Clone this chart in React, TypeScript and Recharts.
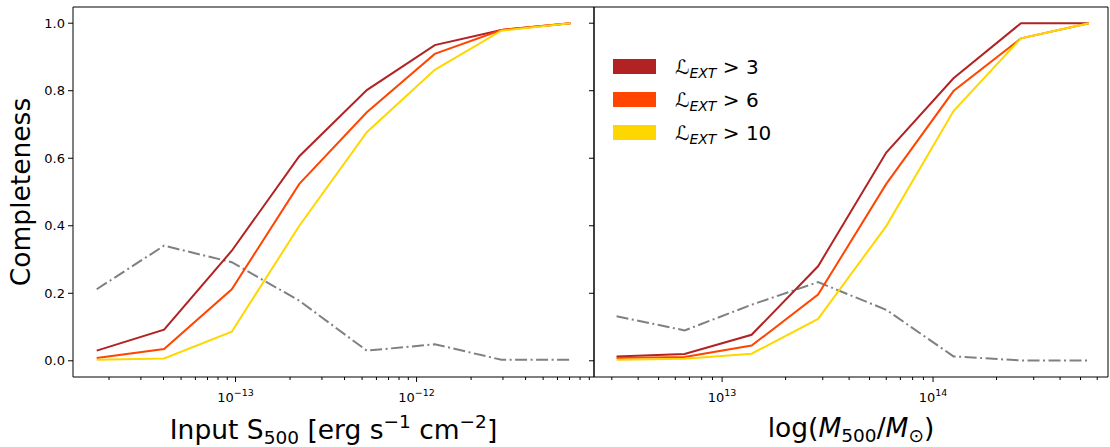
import React from 'react';
import { LineChart, Line, XAxis, YAxis, ReferenceArea, Legend } from 'recharts';

// ---------- data ----------
const fluxBins = [1.71e-14, 4.03e-14, 9.53e-14, 2.25e-13, 5.31e-13, 1.26e-12, 2.94e-12, 7.08e-12];
const fluxL3 = [0.03, 0.092, 0.326, 0.606, 0.802, 0.935, 0.98, 1.0];
const fluxL6 = [0.008, 0.035, 0.212, 0.524, 0.736, 0.909, 0.98, 1.0];
const fluxL10 = [0.003, 0.007, 0.086, 0.4, 0.677, 0.862, 0.978, 1.0];
const fluxContam = [0.212, 0.341, 0.292, 0.178, 0.03, 0.049, 0.003, 0.003];

const massBins = [3.16e12, 6.64e12, 1.38e13, 2.85e13, 6.0e13, 1.25e14, 2.61e14, 5.48e14];
const massL3 = [0.013, 0.02, 0.077, 0.28, 0.617, 0.837, 1.0, 1.0];
const massL6 = [0.008, 0.011, 0.045, 0.196, 0.524, 0.799, 0.955, 1.0];
const massL10 = [0.003, 0.006, 0.021, 0.124, 0.399, 0.74, 0.955, 1.0];
const massContam = [0.132, 0.09, 0.166, 0.233, 0.151, 0.013, 0.001, 0.001];

const yTicks = [0, 0.2, 0.4, 0.6, 0.8, 1.0];
const yDomain: [number, number] = [-0.048, 1.048];

const fluxDomain: [number, number] = [1.265e-14, 9.55e-12];
const fluxMajorTicks = [1e-13, 1e-12];
const fluxMajorExp = ['\u221213', '\u221212'];
const fluxMinorTicks = [
  2e-14, 3e-14, 4e-14, 5e-14, 6e-14, 7e-14, 8e-14, 9e-14,
  2e-13, 3e-13, 4e-13, 5e-13, 6e-13, 7e-13, 8e-13, 9e-13,
  2e-12, 3e-12, 4e-12, 5e-12, 6e-12, 7e-12, 8e-12, 9e-12,
];

const massDomain: [number, number] = [2.47e12, 6.75e14];
const massMajorTicks = [1e13, 1e14];
const massMajorExp = ['13', '14'];
const massMinorTicks = [
  3e12, 4e12, 5e12, 6e12, 7e12, 8e12, 9e12,
  2e13, 3e13, 4e13, 5e13, 6e13, 7e13, 8e13, 9e13,
  2e14, 3e14, 4e14, 5e14, 6e14,
];

const legendThresholds = ['3', '6', '10'];
const seriesColors = ['#b22222', '#ff4500', '#ffd700'];
const contamColor = '#808080';

const FONT = '"DejaVu Sans", Verdana, sans-serif';

const leftData = fluxBins.map((x, i) => ({
  x,
  l3: fluxL3[i],
  l6: fluxL6[i],
  l10: fluxL10[i],
  contam: fluxContam[i],
}));
const rightData = massBins.map((x, i) => ({
  x,
  l3: massL3[i],
  l6: massL6[i],
  l10: massL10[i],
  contam: massContam[i],
}));

// ---------- custom pieces ----------
const makeXTick = (majors: number[], exps: string[]) => (props: any) => {
  const { x, y, payload } = props;
  const idx = majors.findIndex((m) => Math.abs(m - payload.value) / m < 1e-6);
  const isMajor = idx >= 0;
  return (
    <g>
      <line x1={x} x2={x} y1={y} y2={y + (isMajor ? 5 : 3)} stroke="#000" strokeWidth={1} />
      {isMajor && (
        <text x={x} y={y + 24.5} textAnchor="middle" fontSize={13} fontFamily={FONT} fill="#000">
          10
          <tspan fontSize={9.5} dy={-6}>
            {exps[idx]}
          </tspan>
        </text>
      )}
    </g>
  );
};

const FluxTick = makeXTick(fluxMajorTicks, fluxMajorExp);
const MassTick = makeXTick(massMajorTicks, massMajorExp);

const EmptyTick = () => <g />;

const SUB = 18.5;

const fluxXLabel = (props: any) => {
  const vb = props.viewBox;
  const cx = vb.x + vb.width / 2;
  const by = vb.y + 62;
  return (
    <text x={cx} y={by} textAnchor="middle" fontSize={26.5} fontFamily={FONT} fill="#000">
      Input S
      <tspan fontSize={SUB} dy={5}>500</tspan>
      <tspan dy={-5}> [erg s</tspan>
      <tspan fontSize={SUB} dy={-11}>{'\u22121'}</tspan>
      <tspan dy={11}> cm</tspan>
      <tspan fontSize={SUB} dy={-11}>{'\u22122'}</tspan>
      <tspan dy={11}>]</tspan>
    </text>
  );
};

const massXLabel = (props: any) => {
  const vb = props.viewBox;
  const cx = vb.x + vb.width / 2;
  const by = vb.y + 60;
  return (
    <text x={cx} y={by} textAnchor="middle" fontSize={26.5} fontFamily={FONT} fill="#000">
      log(
      <tspan fontStyle="italic">M</tspan>
      <tspan fontSize={SUB} dy={5}>500</tspan>
      <tspan dy={-5}>/</tspan>
      <tspan fontStyle="italic">M</tspan>
      <tspan fontSize={SUB} dy={5}>{'\u2299'}</tspan>
      <tspan dy={-5}>)</tspan>
    </text>
  );
};

const yLabel = (props: any) => {
  const vb = props.viewBox;
  const cx = 30;
  const cy = vb.y + vb.height / 2;
  return (
    <text
      x={cx}
      y={cy}
      transform={`rotate(-90, ${cx}, ${cy})`}
      textAnchor="middle"
      fontSize={26.5}
      fontFamily={FONT}
      fill="#000"
    >
      Completeness
    </text>
  );
};

const renderLegend = () => (
  <div style={{ fontFamily: FONT }}>
    {legendThresholds.map((lab, i) => (
      <div key={lab} style={{ display: 'flex', alignItems: 'center', height: 33 }}>
        <div style={{ width: 43, height: 15, background: seriesColors[i] }} />
        <span
          style={{
            marginLeft: 19,
            fontSize: 20,
            lineHeight: '20px',
            color: '#000',
            whiteSpace: 'nowrap',
          }}
        >
          {'\u2112'}
          <span
            style={{
              fontSize: 14,
              fontStyle: 'italic',
              position: 'relative',
              top: 4,
              lineHeight: 0,
            }}
          >
            EXT
          </span>
          {' > '}
          {lab}
        </span>
      </div>
    ))}
  </div>
);

const seriesLines = () => [
  <Line
    key="contam"
    dataKey="contam"
    type="linear"
    stroke={contamColor}
    strokeWidth={2}
    strokeDasharray="12 3.5 2 3.5"
    dot={false}
    activeDot={false}
    isAnimationActive={false}
  />,
  <Line
    key="l3"
    dataKey="l3"
    type="linear"
    stroke={seriesColors[0]}
    strokeWidth={2}
    dot={false}
    activeDot={false}
    isAnimationActive={false}
  />,
  <Line
    key="l6"
    dataKey="l6"
    type="linear"
    stroke={seriesColors[1]}
    strokeWidth={2}
    dot={false}
    activeDot={false}
    isAnimationActive={false}
  />,
  <Line
    key="l10"
    dataKey="l10"
    type="linear"
    stroke={seriesColors[2]}
    strokeWidth={2}
    dot={false}
    activeDot={false}
    isAnimationActive={false}
  />,
];

export default function App() {
  return (
    <div
      style={{
        position: 'absolute',
        left: 0,
        top: 0,
        width: 1110,
        height: 447,
        background: '#fff',
        overflow: 'hidden',
      }}
    >
      <div style={{ position: 'absolute', left: 0, top: 0 }}>
        <LineChart width={595} height={447} data={leftData} margin={{ top: 7, right: 1, bottom: 0, left: 0 }}>
          <XAxis
            dataKey="x"
            type="number"
            scale="log"
            domain={fluxDomain}
            allowDataOverflow
            ticks={[...fluxMajorTicks, ...fluxMinorTicks]}
            interval={0}
            tickLine={false}
            axisLine={false}
            tickSize={0}
            tickMargin={0}
            tick={FluxTick}
            height={70}
            label={fluxXLabel}
          />
          <YAxis
            type="number"
            domain={yDomain}
            allowDataOverflow
            ticks={yTicks}
            interval={0}
            tickFormatter={(v: number) => v.toFixed(1)}
            width={73}
            tickSize={5}
            tickMargin={3}
            stroke="#000"
            axisLine={false}
            tick={{ fontSize: 13, fill: '#000', fontFamily: FONT }}
            label={yLabel}
          />
          {seriesLines()}
          <ReferenceArea
            x1={fluxDomain[0]}
            x2={fluxDomain[1]}
            y1={yDomain[0]}
            y2={yDomain[1]}
            fill="none"
            fillOpacity={0}
            stroke="#000"
            strokeWidth={1}
            ifOverflow="visible"
          />
        </LineChart>
      </div>
      <div style={{ position: 'absolute', left: 584, top: 0 }}>
        <LineChart width={526} height={447} data={rightData} margin={{ top: 7, right: 2, bottom: 0, left: 0 }}>
          <XAxis
            dataKey="x"
            type="number"
            scale="log"
            domain={massDomain}
            allowDataOverflow
            ticks={[...massMajorTicks, ...massMinorTicks]}
            interval={0}
            tickLine={false}
            axisLine={false}
            tickSize={0}
            tickMargin={0}
            tick={MassTick}
            height={70}
            label={massXLabel}
          />
          <YAxis
            type="number"
            domain={yDomain}
            allowDataOverflow
            ticks={yTicks}
            interval={0}
            width={10}
            tickSize={5}
            tickMargin={0}
            stroke="#000"
            axisLine={false}
            tick={EmptyTick}
          />
          {seriesLines()}
          <ReferenceArea
            x1={massDomain[0]}
            x2={massDomain[1]}
            y1={yDomain[0]}
            y2={yDomain[1]}
            fill="none"
            fillOpacity={0}
            stroke="#000"
            strokeWidth={1}
            ifOverflow="visible"
          />
          <Legend
            layout="horizontal"
            verticalAlign="middle"
            align="center"
            wrapperStyle={{ left: 29, top: 50, width: 230, height: 100 }}
            content={renderLegend}
          />
        </LineChart>
      </div>
    </div>
  );
}
